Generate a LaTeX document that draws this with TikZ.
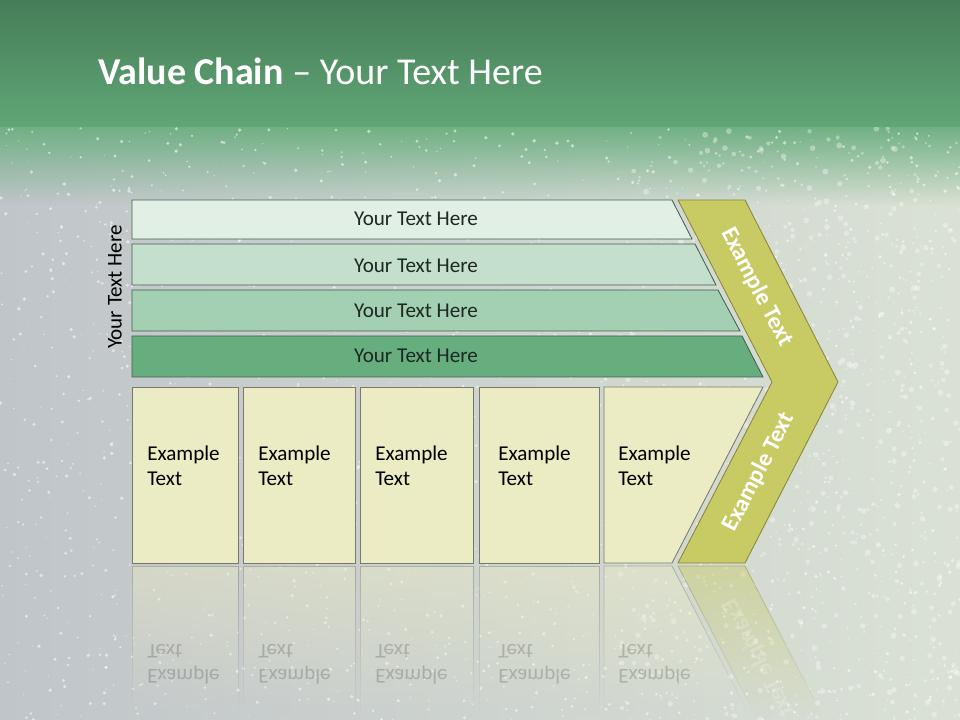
\documentclass[tikz,border=0pt]{standalone}
\usepackage{fontspec}
\setmainfont{Carlito}
\usepackage{xcolor}
\usetikzlibrary{fadings,positioning}
\definecolor{headtop}{RGB}{70,125,88}
\definecolor{headbot}{RGB}{96,166,118}
\definecolor{headfade}{RGB}{112,176,132}
\definecolor{bgleft}{RGB}{192,197,202}
\definecolor{bgright}{RGB}{218,225,212}
\definecolor{barA}{RGB}{226,239,229}
\definecolor{barB}{RGB}{196,223,203}
\definecolor{barC}{RGB}{163,207,178}
\definecolor{barD}{RGB}{102,174,126}
\definecolor{barline}{RGB}{64,96,76}
\definecolor{chevfill}{RGB}{200,202,100}
\definecolor{chevline}{RGB}{135,135,60}
\definecolor{boxfill}{RGB}{235,235,196}
\definecolor{boxline}{RGB}{120,120,108}
\definecolor{txtdark}{RGB}{30,40,34}

\begin{document}
\begin{tikzpicture}[x=0.025cm,y=-0.025cm,
    bar/.style={draw=barline,line width=0.6pt},
    bartxt/.style={font=\fontsize{15}{18}\selectfont,text=txtdark},
    boxstyle/.style={fill=boxfill,draw=boxline,line width=0.6pt},
    boxtxt/.style={font=\fontsize{15}{17.8}\selectfont,align=left,anchor=north west,inner sep=0pt,text=black},
    chev/.style={fill=chevfill,draw=chevline,line width=0.6pt},
    chevtxt/.style={font=\fontsize{17}{20}\selectfont\bfseries,text=white},
    refl/.style={fill=boxfill,draw=boxline,line width=0.6pt,opacity=0.45,path fading=south},
    refltxt/.style={boxtxt,yscale=-1,opacity=0.18}]
   \useasboundingbox (0,0) rectangle (960,720);
   % background
   \fill[left color=bgleft,right color=bgright] (0,0) rectangle (960,720);
   \fill[headfade,path fading=south] (0,126) rectangle (960,205);
   \pgfmathsetseed{17}
   \foreach \k in {1,...,1800}{
     \pgfmathsetmacro\px{rnd*960}
     \pgfmathsetmacro\py{128+rnd*592}
     \pgfmathsetmacro\pr{0.5+rnd*1.4}
     \fill[white,opacity=0.55] (\px,\py) circle[radius=\pr];
   }
   \foreach \k in {1,...,700}{
     \pgfmathsetmacro\px{620+rnd*340}
     \pgfmathsetmacro\py{128+rnd*592}
     \pgfmathsetmacro\pr{1+rnd*2}
     \fill[white,opacity=0.35] (\px,\py) circle[radius=\pr];
   }
   \fill[top color=headtop,bottom color=headbot] (0,0) rectangle (960,127);
   \node[anchor=base west,inner sep=0pt,text=white,font=\fontsize{27}{32}\selectfont] (title) at (98,85) {\textbf{Value Chain} – Your Text Here};
   % reflections
   \draw[refl] (132,566) rectangle (238,715);
   \draw[refl] (243,566) rectangle (355,715);
   \draw[refl] (360,566) rectangle (473,715);
   \draw[refl] (479,566) rectangle (599,715);
   \draw[refl] (604,566) -- (672,566) -- (749,715) -- (604,715) -- cycle;
   \draw[refl,fill=chevfill,draw=chevline] (678,566) -- (745,566) -- (822,715) -- (755,715) -- cycle;
   \node[refltxt] (r1) at (147,684) {Example\\Text};
   \node[refltxt] (r2) at (258,684) {Example\\Text};
   \node[refltxt] (r3) at (375,684) {Example\\Text};
   \node[refltxt] (r4) at (498,684) {Example\\Text};
   \node[refltxt] (r5) at (618,684) {Example\\Text};
   \node[chevtxt,yscale=-1,rotate=62.7,opacity=0.2] (rc) at (759,658) {Example Text};
   % bars
   \draw[bar,fill=barA] (132,200) -- (672,200) -- (692,239) -- (132,239) -- cycle;
   \draw[bar,fill=barB] (132,244) -- (695,244) -- (716,285) -- (132,285) -- cycle;
   \draw[bar,fill=barC] (132,290) -- (718,290) -- (740,331) -- (132,331) -- cycle;
   \draw[bar,fill=barD] (132,336) -- (742,336) -- (763,377) -- (132,377) -- cycle;
   \node[bartxt] (b1) at (416,219) {Your Text Here};
   \node[bartxt] (b2) at (416,266) {Your Text Here};
   \node[bartxt] (b3) at (416,311) {Your Text Here};
   \node[bartxt] (b4) at (416,356) {Your Text Here};
   \node[bartxt,text=black,rotate=90] (side) at (115,287) {Your Text Here};
   % boxes
   \draw[boxstyle] (132,387) rectangle (238,563);
   \draw[boxstyle] (243,387) rectangle (355,563);
   \draw[boxstyle] (360,387) rectangle (473,563);
   \draw[boxstyle] (479,387) rectangle (599,563);
   \draw[boxstyle] (604,387) -- (763,387) -- (672,563) -- (604,563) -- cycle;
   \node[boxtxt] (e1) at (147,446) {Example\\Text};
   \node[boxtxt] (e2) at (258,446) {Example\\Text};
   \node[boxtxt] (e3) at (375,446) {Example\\Text};
   \node[boxtxt] (e4) at (498,446) {Example\\Text};
   \node[boxtxt] (e5) at (618,446) {Example\\Text};
   % chevron
   \draw[chev] (678,200) -- (745,200) -- (838,382) -- (745,563) -- (678,563) -- (772,382) -- cycle;
   \node[chevtxt,rotate=-62.7] (c1) at (757,287) {Example Text};
   \node[chevtxt,rotate=62.7] (c2) at (759,472) {Example Text};
  \end{tikzpicture}
\end{document}
